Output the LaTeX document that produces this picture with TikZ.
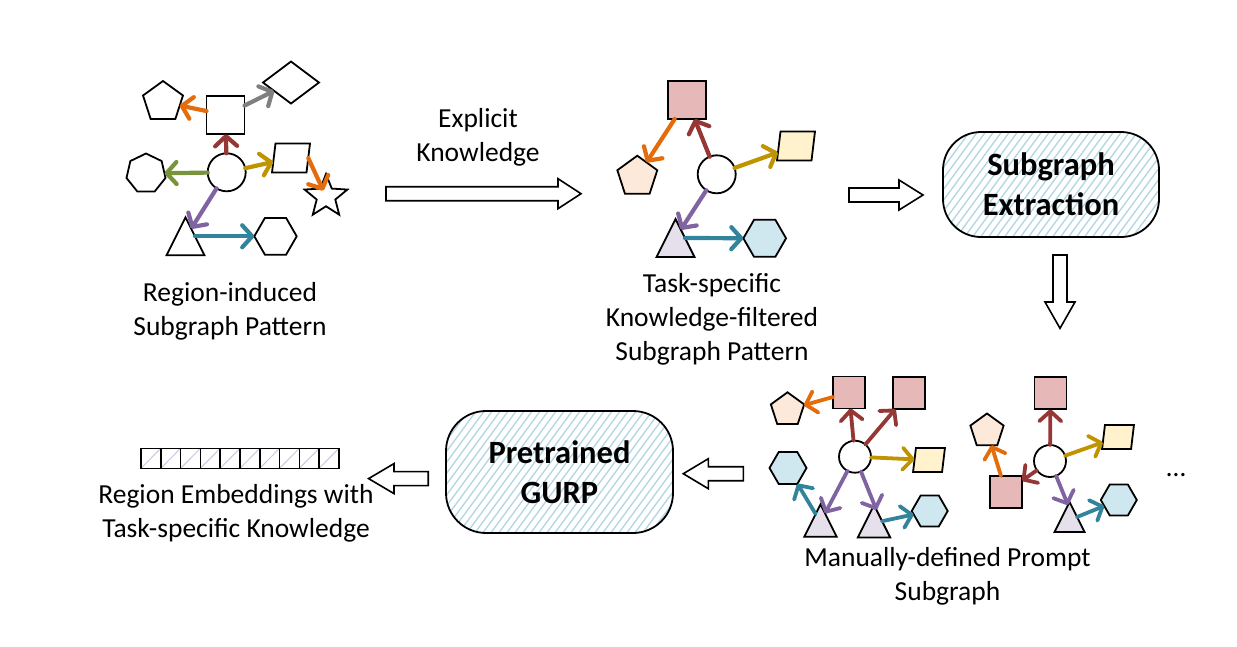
\documentclass[tikz,border=0pt]{standalone}
\usepackage{fontspec}
\setmainfont{Carlito}
\usetikzlibrary{shapes.geometric,arrows.meta,calc}
\definecolor{cRed}{HTML}{953735}
\definecolor{cOr}{HTML}{E46C0A}
\definecolor{cGray}{HTML}{808080}
\definecolor{cGreen}{HTML}{77933C}
\definecolor{cGold}{HTML}{C09400}
\definecolor{cPur}{HTML}{8064A2}
\definecolor{cTeal}{HTML}{31849B}
\definecolor{fPink}{HTML}{E6B9B8}
\definecolor{fPeach}{HTML}{FDE9D9}
\definecolor{fYel}{HTML}{FFF2CC}
\definecolor{fLav}{HTML}{E6E0EC}
\definecolor{fBlue}{HTML}{CFE8EF}
\definecolor{hatchB}{HTML}{B0D6E4}
\definecolor{hatchL}{HTML}{CFC6E2}
\newcommand\myblkR[4]{\draw[blk] ({#1},{#3-7}) -- ({#4},{#3-7}) -- ({#4},{#3-15}) -- ({#2},{#3}) -- ({#4},{#3+15}) -- ({#4},{#3+7}) -- ({#1},{#3+7}) -- cycle;}
\newcommand\myblkD[4]{\draw[blk] ({#1-7},{#2}) -- ({#1-7},{#4}) -- ({#1-15},{#4}) -- ({#1},{#3}) -- ({#1+15},{#4}) -- ({#1+7},{#4}) -- ({#1+7},{#2}) -- cycle;}
\begin{document}
\begin{tikzpicture}[x=1pt,y=-1pt,
  shp/.style={draw=black,line width=1.8pt,inner sep=0pt,outer sep=0pt},
  circ/.style={shp,circle,minimum size=#1,fill=white},
  sq/.style={shp,rectangle,minimum size=#1},
  pent/.style={shp,regular polygon,regular polygon sides=5,minimum size=#1},
  hexa/.style={shp,regular polygon,regular polygon sides=6,minimum size=#1},
  hepta/.style={shp,regular polygon,regular polygon sides=7,minimum size=#1},
  para/.style 2 args={shp,rectangle,minimum width=#1,minimum height=#2,xslant=0.12,transform shape},
  tri/.style={shp,isosceles triangle,isosceles triangle stretches,shape border rotate=90,minimum width=#1,minimum height=#1,anchor=apex},
  arr/.style={line width=4.2pt,line cap=round,-{Straight Barb[length=10pt,width=22pt,round]}},
  arrs/.style={arr,line width=3.8pt},
  blk/.style={draw=black,fill=white,line width=1.6pt,line join=miter},
  lbl/.style={align=center,inner sep=0pt,font=\fontsize{27.5}{34}\selectfont},
  procbox/.style={draw=black,line width=1.8pt,rounded corners=38pt,align=center,inner sep=0pt,
    font=\fontsize{32.5}{40}\selectfont\bfseries,
    path picture={\foreach \k in {-45,...,45}{\draw[hatchB,line width=1.3pt] ($(path picture bounding box.center)+(\k*8,0)+(-110,150)$) -- ++(220,-300);}}},
  cell/.style={draw=black,line width=1.5pt,minimum width=19.8pt,minimum height=20pt,inner sep=0pt,
    path picture={\draw[hatchL,line width=1pt] (path picture bounding box.south west) -- (path picture bounding box.north east);}}
]
\useasboundingbox (0,0) rectangle (1237,646);
\fill[white] (0,0) rectangle (1237,646);

% ---------- top-left graph ----------
\node[circ=38] (c1) at (226.7,172.3) {};
\node[sq=38] (s1) at (225.5,115) {};
\node[pent=42] (p1) at (163,102) {};
\node[shp,diamond,minimum width=56pt,minimum height=42pt] (d1) at (291,82.5) {};
\node[hepta=40] (h1) at (146,173.5) {};
\node[para={34.5pt}{29pt}] (q1) at (291,158) {};
\node[shp,star,star points=5,star point ratio=2.3,minimum size=45pt] (st1) at (326,196.5) {};
\node[tri=38pt] (t1) at (185.5,217.3) {};
\node[hexa=42.4] (x1) at (275.5,236.3) {};
\draw[arr,cRed] (c1) -- (s1);
\draw[arr,cOr] (s1) -- (p1);
\draw[arr,cGray] (s1) -- (d1);
\draw[arr,cGreen] (c1) -- (h1);
\draw[arr,cGold] (c1) -- (q1);
\draw[arr,cOr,shorten >=6.5pt] (q1.east) -- (st1.center);
\draw[arr,cPur] (c1) -- ($(t1.apex)!0.3!(t1.right corner)$);
\draw[arr,cTeal] (t1.right side) -- (x1);
\node[lbl] (l1) at (230,311) {Region-induced\\Subgraph Pattern};

% ---------- explicit knowledge arrow ----------
\myblkR{386}{581}{193.7}{558}
\node[lbl] (l2) at (478,137.5) {Explicit\\Knowledge};

% ---------- middle graph ----------
\node[circ=38] (c2) at (716.7,174.3) {};
\node[sq=38,fill=fPink] (s2) at (687,100) {};
\node[pent=42,fill=fPeach] (p2) at (637.3,176.7) {};
\node[para={34.5pt}{29pt},fill=fYel] (q2) at (796,146) {};
\node[tri=38pt,fill=fLav] (t2) at (675.5,219) {};
\node[hexa=42.7,fill=fBlue] (x2) at (764.7,238.3) {};
\draw[arr,cOr] (s2) -- (p2);
\draw[arr,cRed] (c2) -- (s2);
\draw[arr,cGold] (c2) -- (q2);
\draw[arr,cPur] (c2) -- ($(t2.apex)!0.28!(t2.right corner)$);
\draw[arr,cTeal] (t2.right side) -- (x2);
\node[lbl] (l3) at (712,319) {Task-specific\\Knowledge-filtered\\Subgraph Pattern};

% ---------- subgraph extraction ----------
\myblkR{849}{923}{195}{899}
\node[procbox,minimum width=216pt,minimum height=105pt] (se) at (1051,184.5) {Subgraph\\Extraction};
\myblkD{1060}{255}{328.3}{302}

% ---------- bottom graph 1 ----------
\node[circ=32] (c3) at (855,456.7) {};
\node[sq=32,fill=fPink] (s3a) at (849,392.5) {};
\node[sq=32,fill=fPink] (s3b) at (909,393) {};
\node[pent=35,fill=fPeach] (p3) at (787.5,409.8) {};
\node[para={29pt}{24pt},fill=fYel] (q3) at (929,460) {};
\node[hexa=37,fill=fBlue] (h3a) at (788,468) {};
\node[tri=32.4pt,fill=fLav] (t3a) at (820.5,504.3) {};
\node[tri=32.4pt,fill=fLav] (t3b) at (874,505) {};
\node[hexa=36,fill=fBlue] (h3b) at (929.7,511) {};
\draw[arrs,cOr] (s3a) -- (p3);
\draw[arrs,cRed] (c3) -- (s3a);
\draw[arrs,cRed] (c3) -- (s3b);
\draw[arrs,cGold] (c3) -- (q3);
\draw[arrs,cPur] (c3) -- ($(t3a.apex)!0.28!(t3a.right corner)$);
\draw[arrs,cPur] (c3) -- ($(t3b.apex)!0.15!(t3b.right corner)$);
\draw[arrs,cTeal] ($(t3a.apex)!0.3!(t3a.left corner)$) -- (h3a);
\draw[arrs,cTeal] (t3b.right side) -- (h3b);

% ---------- bottom graph 2 ----------
\node[circ=32] (c4) at (1050,461) {};
\node[sq=32,fill=fPink] (s4a) at (1050.5,393.3) {};
\node[pent=35,fill=fPeach] (p4) at (987,431) {};
\node[para={29pt}{24pt},fill=fYel] (q4) at (1118,437) {};
\node[sq=32,fill=fPink] (s4b) at (1006,492) {};
\node[tri=30pt,fill=fLav] (t4) at (1069.5,502) {};
\node[hexa=36,fill=fBlue] (h4) at (1118.8,500) {};
\draw[arrs,cRed] (c4) -- (s4a);
\draw[arrs,cGold] (c4) -- (q4);
\draw[arrs,cRed] (c4) -- (s4b);
\draw[arrs,cOr] (s4b) -- (p4);
\draw[arrs,cPur] (c4) -- ($(t4.apex)!0.1!(t4.left corner)$);
\draw[arrs,cTeal] (t4.right side) -- (h4);
\node[lbl,anchor=base] (dots) at (1176,476) {…};
\node[lbl] (l4) at (947.5,576) {Manually-defined Prompt\\Subgraph};

% ---------- pretrained GURP ----------
\myblkR{743.3}{683.3}{473.7}{708.3}
\node[procbox,minimum width=227pt,minimum height=122pt,rounded corners=40pt] (gurp) at (559.5,472) {Pretrained\\GURP};
\myblkR{428.2}{368.6}{478.6}{394}

% ---------- region embeddings ----------
\foreach \i in {1,...,10}{\node[cell] (e\i) at ({141+9.9+(\i-1)*19.8},458.3) {};}
\node[lbl] (l5) at (236,513) {Region Embeddings with\\Task-specific Knowledge};
\end{tikzpicture}
\end{document}
